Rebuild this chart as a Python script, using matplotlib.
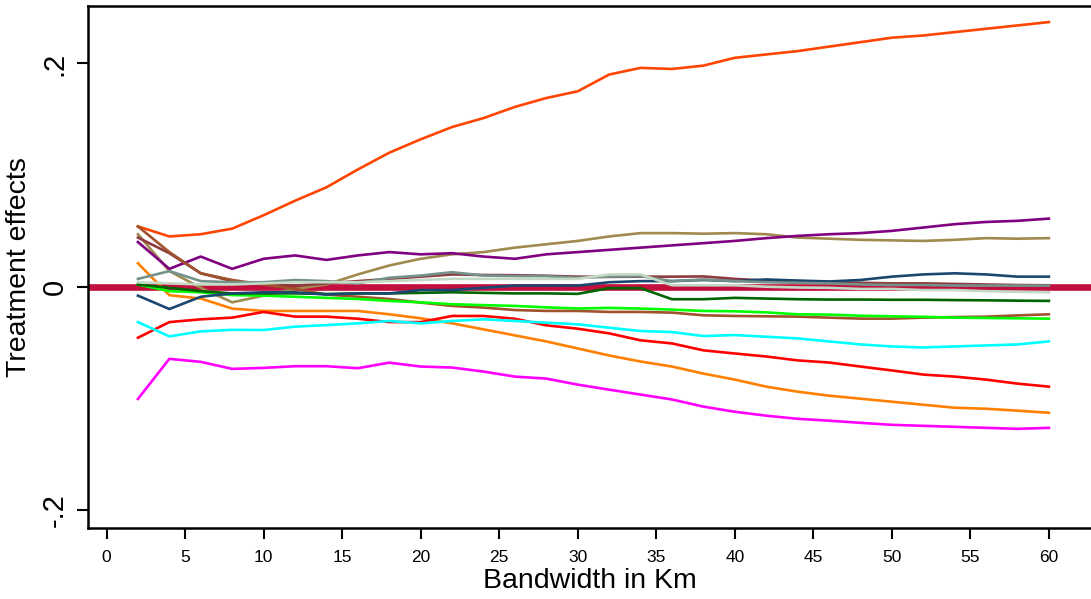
import matplotlib
matplotlib.use("Agg")
import matplotlib.pyplot as plt
import numpy as np

plt.rcParams['font.family'] = ['Liberation Sans', 'DejaVu Sans']

bandwidth = list(range(2, 61, 2))

orange_red = [0.054, 0.045, 0.047, 0.052, 0.064, 0.077, 0.089, 0.105, 0.120, 0.132, 0.143, 0.151, 0.161, 0.169, 0.175,
              0.190, 0.196, 0.195, 0.198, 0.205, 0.208, 0.211, 0.215, 0.219, 0.223, 0.225, 0.228, 0.231, 0.234, 0.237]
tan = [0.047, 0.014, -0.001, -0.014, -0.008, -0.002, 0.002, 0.011, 0.019, 0.025, 0.029, 0.031, 0.035, 0.038, 0.041,
       0.045, 0.048, 0.048, 0.0475, 0.048, 0.047, 0.044, 0.043, 0.042, 0.0415, 0.041, 0.042, 0.0435, 0.043, 0.0435]
purple = [0.040, 0.016, 0.027, 0.016, 0.025, 0.028, 0.024, 0.028, 0.031, 0.029, 0.030, 0.027, 0.025, 0.029, 0.031,
          0.033, 0.035, 0.037, 0.039, 0.041, 0.0435, 0.0455, 0.047, 0.048, 0.050, 0.053, 0.056, 0.058, 0.059, 0.061]
navy = [-0.008, -0.020, -0.009, -0.006, -0.005, -0.005, -0.007, -0.006, -0.006, -0.003, -0.003, -0.001, 0.001, 0.001, 0.001,
        0.004, 0.005, 0.005, 0.006, 0.005, 0.0065, 0.0055, 0.0047, 0.006, 0.009, 0.011, 0.012, 0.011, 0.009, 0.009]
gray_green = [0.007, 0.014, 0.005, 0.004, 0.004, 0.006, 0.005, 0.003, 0.008, 0.010, 0.013, 0.010, 0.0095, 0.0095, 0.008,
              0.009, 0.0095, 0.005, 0.0065, 0.005, 0.004, 0.0035, 0.003, 0.002, 0.0015, 0.0015, 0.001, 0.001, 0.001, 0.001]
pale_green = [0.004, 0.003, 0.002, 0.002, 0.003, 0.004, 0.004, 0.004, 0.005, 0.006, 0.007, 0.007, 0.007, 0.007, 0.007,
              0.011, 0.011, 0.0013, 0.0013, 0.0013, 0.0, -0.0007, -0.001, -0.002, -0.002, -0.003, -0.003, -0.004, -0.0045, -0.005]
dark_green = [0.002, -0.001, -0.004, -0.006, -0.006, -0.006, -0.0065, -0.006, -0.006, -0.0055, -0.005, -0.0055, -0.006, -0.006, -0.0064,
              -0.0013, -0.0013, -0.0112, -0.0112, -0.010, -0.0106, -0.0112, -0.0115, -0.0115, -0.0117, -0.0117, -0.012, -0.0122, -0.0125, -0.0127]
lime = [0.002, -0.004, -0.005, -0.0075, -0.008, -0.009, -0.010, -0.011, -0.0127, -0.014, -0.0157, -0.0165, -0.0172, -0.0185, -0.0195,
        -0.019, -0.0196, -0.0205, -0.0217, -0.022, -0.023, -0.0247, -0.025, -0.026, -0.0265, -0.027, -0.0277, -0.028, -0.0283, -0.0286]
sienna = [0.054, 0.031, 0.012, 0.006, 0.002, -0.002, -0.007, -0.009, -0.011, -0.0142, -0.0172, -0.0187, -0.0209, -0.0217, -0.0217,
          -0.0226, -0.0226, -0.0232, -0.0256, -0.0262, -0.0265, -0.0268, -0.0277, -0.0286, -0.0286, -0.0277, -0.0272, -0.0268, -0.0257, -0.0247]
maroon = [0.044, 0.030, 0.012, 0.005, 0.002, 0.001, 0.003, 0.005, 0.007, 0.009, 0.011, 0.0105, 0.0103, 0.0098, 0.009,
          0.0088, 0.009, 0.009, 0.0092, 0.007, 0.0055, 0.005, 0.004, 0.0035, 0.003, 0.003, 0.0025, 0.002, 0.0015, 0.0013]
orange = [0.021, -0.0076, -0.0106, -0.0196, -0.0217, -0.0217, -0.0217, -0.0217, -0.0247, -0.0283, -0.0328, -0.0382, -0.0436, -0.049, -0.0553,
          -0.0616, -0.067, -0.0715, -0.0778, -0.0832, -0.0895, -0.094, -0.0976, -0.1003, -0.103, -0.1057, -0.1084, -0.1093, -0.111, -0.1129]
red = [-0.0457, -0.0317, -0.0292, -0.0277, -0.0226, -0.0268, -0.0268, -0.0287, -0.0317, -0.0317, -0.0262, -0.0262, -0.0287, -0.0346, -0.0376,
       -0.0418, -0.048, -0.0508, -0.057, -0.0598, -0.0625, -0.066, -0.0679, -0.0715, -0.075, -0.0787, -0.0805, -0.0832, -0.0868, -0.0895]
cyan = [-0.0317, -0.0445, -0.040, -0.0386, -0.0388, -0.0358, -0.0344, -0.0328, -0.0307, -0.0328, -0.0307, -0.0292, -0.0307, -0.0322, -0.0337,
        -0.0367, -0.0397, -0.0406, -0.0442, -0.0433, -0.0448, -0.0463, -0.049, -0.0517, -0.0535, -0.0544, -0.0535, -0.0526, -0.0517, -0.049]
magenta = [-0.1005, -0.0646, -0.0673, -0.0736, -0.0727, -0.0712, -0.0712, -0.073, -0.068, -0.0715, -0.0724, -0.076, -0.0805, -0.0823, -0.0877,
           -0.0922, -0.0966, -0.101, -0.1074, -0.112, -0.1155, -0.1183, -0.12, -0.1219, -0.1237, -0.1246, -0.1255, -0.1264, -0.1273, -0.1264]

series = [
    (orange_red, '#FF4500'),
    (tan, '#A08A4E'),
    (purple, '#800080'),
    (maroon, '#8E3A3E'),
    (sienna, '#A0522D'),
    (orange, '#FF8000'),
    (red, '#FF0000'),
    (cyan, '#00FFFF'),
    (magenta, '#FF00FF'),
    (lime, '#00FF00'),
    (dark_green, '#006400'),
    (navy, '#1A476F'),
    (gray_green, '#74918A'),
    (pale_green, '#C4D9C4'),
]

x_ticks = list(range(0, 61, 5))
y_ticks = [-0.2, 0, 0.2]
y_tick_labels = ['-.2', '0', '.2']

fig = plt.figure(figsize=(10.91, 5.99), dpi=100)
ax = fig.add_axes([88/1091, 1 - 528/599, 1 - 88/1091 + 0.001, (528 - 6)/599])

ax.axhline(0, color='#C20F3E', lw=4.8, zorder=1)
for vals, col in series:
    ax.plot(bandwidth, vals, color=col, lw=1.9, zorder=2)

ax.set_xlim(-1.18, 62.75)
ax.set_ylim(-0.2161, 0.2514)
ax.set_xticks(x_ticks)
ax.set_xticklabels([str(t) for t in x_ticks], fontsize=12.5)
ax.set_yticks(y_ticks)
ax.set_yticklabels(y_tick_labels, fontsize=21, rotation=90, va='center')
ax.tick_params(axis='x', length=8, width=1.5, pad=8)
ax.tick_params(axis='y', length=8, width=1.5, pad=6)
for s in ['left', 'bottom', 'top']:
    ax.spines[s].set_linewidth(1.8)
ax.spines['right'].set_visible(False)
ax.set_xlabel('Bandwidth in Km', fontsize=20.5, labelpad=2)
ax.set_ylabel('Treatment effects', fontsize=20.5, labelpad=6)

fig.savefig('out.png', dpi=100)
